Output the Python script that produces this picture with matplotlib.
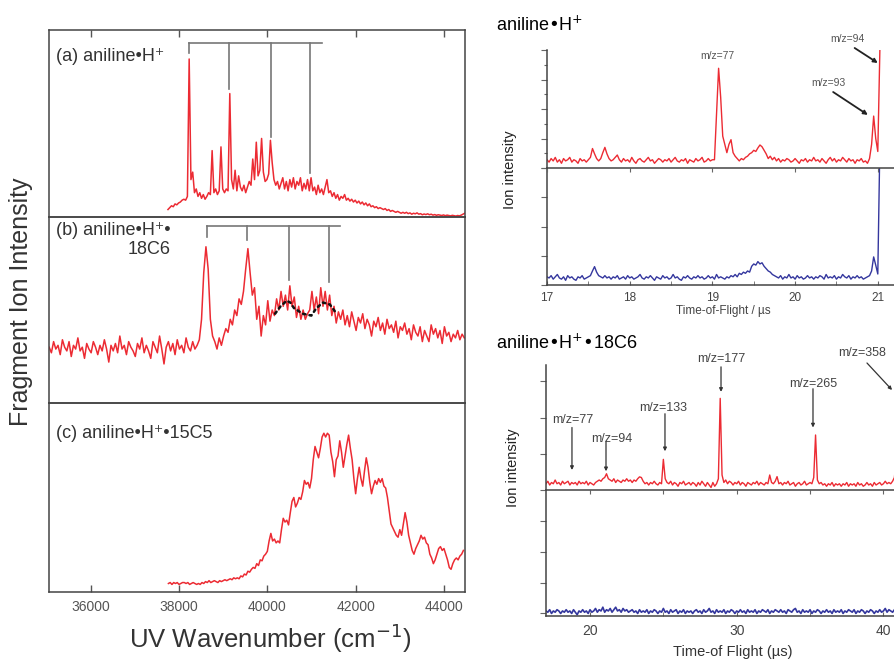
import numpy as np
import matplotlib.pyplot as plt
from matplotlib.ticker import MultipleLocator

plt.rcParams['font.family'] = ['Liberation Sans', 'DejaVu Sans']

# ---------------- left: UV photodissociation spectra ----------------
# panel (a) aniline.H+, sampled every 40 cm-1 from 37750
spec_a_start, spec_a_step = 37750, 40
spec_a = [0.04, 0.05, 0.06, 0.055, 0.07, 0.065, 0.075, 0.08, 0.09, 0.095, 0.09, 0.11,
          0.845, 0.2, 0.24, 0.13, 0.15, 0.11, 0.13, 0.1, 0.12, 0.095, 0.11, 0.13, 0.12,
          0.355, 0.13, 0.15, 0.12, 0.14, 0.375, 0.15, 0.13, 0.15, 0.14,
          0.66, 0.2, 0.15, 0.25, 0.14, 0.22, 0.16, 0.14, 0.17, 0.13, 0.16, 0.19, 0.17,
          0.31, 0.2, 0.4, 0.22, 0.25, 0.42, 0.24, 0.19, 0.2, 0.23, 0.41, 0.29,
          0.2, 0.17, 0.19, 0.15, 0.18, 0.21, 0.15, 0.19, 0.14, 0.2, 0.16, 0.21, 0.15, 0.19,
          0.17, 0.21, 0.14, 0.18, 0.15, 0.2, 0.14, 0.21,
          0.14, 0.16, 0.12, 0.17, 0.13, 0.15, 0.12, 0.16, 0.2, 0.13, 0.14, 0.11, 0.13, 0.1,
          0.12, 0.09, 0.11, 0.1, 0.12,
          0.09, 0.1, 0.085, 0.095, 0.08, 0.09, 0.075, 0.085, 0.07, 0.08, 0.065, 0.075, 0.06,
          0.07, 0.055, 0.06, 0.05, 0.055, 0.045, 0.05, 0.045, 0.04, 0.045, 0.035, 0.04, 0.03,
          0.035, 0.03, 0.025,
          0.03, 0.025, 0.02, 0.025, 0.02, 0.025, 0.018, 0.022, 0.015, 0.02, 0.017, 0.022,
          0.015, 0.018, 0.012, 0.016, 0.013, 0.017, 0.012, 0.015, 0.01, 0.013, 0.009, 0.012,
          0.01, 0.008, 0.011, 0.007, 0.01, 0.008, 0.006, 0.009, 0.007, 0.005, 0.008, 0.006,
          0.01, 0.015, 0.02]

# panel (b) aniline.H+.18C6, every 50 cm-1 from 35060
spec_b_start, spec_b_step = 35060, 50
spec_b = [0.30, 0.27, 0.33, 0.29, 0.31, 0.26, 0.34, 0.30, 0.28, 0.33, 0.25, 0.31, 0.29, 0.35,
          0.28, 0.30, 0.24, 0.32, 0.29, 0.27, 0.33, 0.30, 0.26, 0.31, 0.28, 0.34, 0.29, 0.22,
          0.31, 0.28, 0.32, 0.27, 0.36, 0.29, 0.31, 0.26, 0.33, 0.30, 0.28, 0.25, 0.32, 0.29,
          0.35, 0.27, 0.31, 0.28, 0.24, 0.33, 0.30, 0.27, 0.36, 0.29, 0.21, 0.30, 0.33, 0.28,
          0.32, 0.26, 0.34, 0.29, 0.31, 0.27, 0.35, 0.30, 0.28, 0.33, 0.29, 0.31,
          0.34, 0.45, 0.70, 0.84, 0.72, 0.45, 0.36, 0.33, 0.29, 0.35, 0.31, 0.36, 0.40, 0.38,
          0.45, 0.42, 0.50, 0.47, 0.56, 0.53, 0.60, 0.72, 0.83, 0.70, 0.58, 0.62, 0.45, 0.52,
          0.36, 0.47, 0.42, 0.55, 0.44, 0.50, 0.47, 0.56, 0.50, 0.60, 0.52, 0.58, 0.50, 0.63,
          0.52, 0.57, 0.46, 0.52, 0.45, 0.50, 0.45, 0.48, 0.50, 0.60, 0.50, 0.57, 0.48, 0.62,
          0.52, 0.60, 0.50, 0.58, 0.47, 0.52, 0.43, 0.49,
          0.45, 0.50, 0.42, 0.47, 0.41, 0.49, 0.44, 0.39, 0.46, 0.43, 0.48, 0.40, 0.45, 0.42,
          0.36, 0.44, 0.41, 0.46, 0.39, 0.43, 0.37, 0.45, 0.40, 0.42, 0.38, 0.44, 0.35, 0.41,
          0.39, 0.43, 0.37, 0.40, 0.34, 0.42, 0.38, 0.36, 0.41, 0.33, 0.39, 0.36,
          0.33, 0.42, 0.37, 0.40, 0.35, 0.39, 0.32, 0.41, 0.36, 0.38, 0.33, 0.37, 0.35, 0.39,
          0.34, 0.37, 0.35]
dots_b_wn = [40175, 40300, 40440, 40520, 40605, 40800, 40997, 41110, 41262, 41414, 41570]
dots_b_val = [0.48, 0.52, 0.55, 0.54, 0.51, 0.48, 0.47, 0.51, 0.54, 0.53, 0.48]

# panel (c) aniline.H+.15C5, every 40 cm-1 from 37760
spec_c_start, spec_c_step = 37760, 40
spec_c = [0.045, 0.05, 0.04, 0.05, 0.045, 0.05, 0.04, 0.045, 0.05, 0.05, 0.045, 0.05, 0.04,
          0.045, 0.05, 0.045, 0.04, 0.045, 0.04, 0.05, 0.045, 0.055, 0.05, 0.06, 0.05, 0.055,
          0.06, 0.055, 0.05, 0.06, 0.055, 0.06, 0.065, 0.06, 0.065, 0.07, 0.065, 0.075, 0.07,
          0.075, 0.07, 0.085, 0.08, 0.095, 0.09, 0.11, 0.105, 0.12, 0.13, 0.125, 0.15, 0.14,
          0.17, 0.165, 0.19, 0.2, 0.215, 0.27, 0.31, 0.27, 0.28, 0.26, 0.27, 0.26, 0.33, 0.39,
          0.37, 0.38, 0.355, 0.42, 0.48, 0.5, 0.45, 0.47, 0.5, 0.49, 0.53, 0.59, 0.57, 0.58,
          0.55, 0.6, 0.7, 0.77, 0.74, 0.71, 0.76, 0.82, 0.84, 0.82, 0.84, 0.83, 0.74, 0.69,
          0.61, 0.7, 0.72, 0.8, 0.74, 0.66, 0.72, 0.78, 0.83, 0.76, 0.7, 0.6, 0.52, 0.6, 0.66,
          0.6, 0.56, 0.64, 0.71, 0.66, 0.58, 0.52, 0.56, 0.59, 0.57, 0.6, 0.58, 0.6, 0.56,
          0.55, 0.5, 0.43, 0.36, 0.34, 0.32, 0.3, 0.29, 0.33, 0.3, 0.36, 0.42, 0.37, 0.3, 0.26,
          0.22, 0.2, 0.23, 0.25, 0.27, 0.3, 0.28, 0.29, 0.26, 0.25, 0.2, 0.18, 0.15, 0.17, 0.2,
          0.23, 0.24, 0.22, 0.23, 0.2, 0.17, 0.13, 0.12, 0.15, 0.17, 0.18, 0.17, 0.19, 0.2, 0.22]

# progression brackets (position, bottom of each drop line)
bracket_a_wn = [38227, 39133, 40077, 40968]
bracket_a_low = [0.877, 0.684, 0.428, 0.235]
bracket_a_top, bracket_a_end = 0.93, 41232
bracket_b_wn = [38642, 39547, 40499, 41398]
bracket_b_low = [0.894, 0.876, 0.66, 0.65]
bracket_b_top, bracket_b_end = 0.95, 41647

uv_ticks = [36000, 38000, 40000, 42000, 44000]
panel_labels = ['(a) aniline•H⁺', '(b) aniline•H⁺•\n18C6', '(c) aniline•H⁺•15C5']

# ---------------- right top: TOF of aniline.H+ (step 0.025 us from 17) ----------------
tof1_start, tof1_step = 17.0, 0.025
tof1_red = [0.07, 0.05, 0.08, 0.06, 0.09, 0.05, 0.07, 0.04, 0.08, 0.06, 0.07, 0.09, 0.05, 0.07,
            0.06, 0.04, 0.08, 0.06, 0.07, 0.05, 0.07,
            0.09, 0.165, 0.12, 0.08, 0.06, 0.08, 0.13, 0.175, 0.12, 0.08, 0.06, 0.07, 0.09, 0.11,
            0.07, 0.05, 0.08, 0.06, 0.07, 0.05, 0.09, 0.06, 0.04, 0.07, 0.08, 0.06, 0.05, 0.07,
            0.09, 0.06, 0.07, 0.04, 0.06, 0.08, 0.07, 0.05, 0.07, 0.06, 0.08, 0.05, 0.07, 0.09,
            0.06, 0.05, 0.07, 0.06, 0.08, 0.04, 0.07, 0.06, 0.05, 0.08, 0.06, 0.07, 0.09, 0.05,
            0.06, 0.08, 0.06, 0.07,
            0.07, 0.45, 0.845, 0.6, 0.27, 0.2, 0.13, 0.2, 0.24, 0.13, 0.1, 0.08, 0.06, 0.08, 0.07,
            0.09, 0.1, 0.12, 0.13, 0.15, 0.14, 0.17, 0.195, 0.18, 0.15, 0.12, 0.08, 0.1,
            0.07, 0.09, 0.06, 0.08, 0.05, 0.07, 0.06, 0.08, 0.07, 0.05, 0.06, 0.08, 0.06, 0.04,
            0.07, 0.06, 0.08, 0.05, 0.07, 0.06, 0.09, 0.06, 0.07, 0.05, 0.08, 0.06, 0.04, 0.07,
            0.09, 0.06, 0.08, 0.05, 0.07, 0.06, 0.09, 0.07, 0.05, 0.08, 0.06, 0.07, 0.04, 0.07,
            0.06, 0.08, 0.05, 0.06, 0.04, 0.08,
            0.2, 0.44, 0.25, 0.14, 1.0]
tof1_blue = [0.07, 0.06, 0.08, 0.05, 0.07, 0.09, 0.06, 0.05, 0.07, 0.04, 0.08, 0.06, 0.07, 0.05,
             0.04, 0.07, 0.06, 0.08, 0.05, 0.06, 0.07,
             0.08, 0.12, 0.157, 0.11, 0.08,
             0.07, 0.06, 0.08, 0.06, 0.07, 0.05, 0.07, 0.06, 0.08, 0.05, 0.06, 0.07, 0.05, 0.08,
             0.06, 0.07, 0.05, 0.06, 0.07, 0.09, 0.06, 0.05, 0.07, 0.06, 0.08, 0.06, 0.04, 0.07,
             0.06, 0.05, 0.08, 0.06, 0.07, 0.05, 0.06, 0.09, 0.06, 0.07, 0.05, 0.04, 0.07, 0.06,
             0.08, 0.06, 0.05, 0.07, 0.06, 0.08, 0.06, 0.07, 0.05, 0.06, 0.08, 0.06, 0.07, 0.05,
             0.09, 0.06, 0.07, 0.06, 0.05, 0.07, 0.06, 0.08,
             0.07, 0.09, 0.07, 0.1, 0.09, 0.11, 0.1, 0.12, 0.11, 0.16, 0.18, 0.17, 0.2, 0.18,
             0.19, 0.16, 0.14, 0.12, 0.11, 0.09, 0.08,
             0.07, 0.06, 0.08, 0.05, 0.07, 0.06, 0.09, 0.06, 0.07, 0.05, 0.08, 0.06, 0.07, 0.05,
             0.06, 0.08, 0.06, 0.07, 0.05, 0.07, 0.06, 0.08, 0.07, 0.05, 0.09, 0.06, 0.07, 0.06,
             0.08, 0.05, 0.07, 0.06, 0.09, 0.07, 0.06, 0.08, 0.05, 0.07, 0.06, 0.08, 0.06, 0.07,
             0.05, 0.06, 0.07, 0.08,
             0.12, 0.24, 0.17, 0.094, 1.2]

# ---------------- right bottom: TOF of aniline.H+.18C6 (step 0.125 us from 17) ----------------
tof2_start, tof2_step = 17.0, 0.125
tof2_red = [0.05, 0.07, 0.04, 0.06, 0.05, 0.08, 0.05, 0.06, 0.04, 0.07, 0.05, 0.06, 0.07, 0.04, 0.06, 0.05,
            0.06, 0.04, 0.07, 0.05, 0.06, 0.05, 0.07, 0.04, 0.06, 0.05, 0.04, 0.06, 0.07, 0.08, 0.07, 0.09,
            0.10, 0.13, 0.09, 0.08, 0.07, 0.09, 0.06, 0.08, 0.07, 0.06, 0.08, 0.07, 0.09, 0.07, 0.08, 0.06,
            0.08, 0.07, 0.09, 0.105, 0.10, 0.07, 0.05, 0.06, 0.04, 0.06, 0.05, 0.07, 0.05, 0.04, 0.06, 0.05,
            0.245, 0.09, 0.06, 0.05, 0.07, 0.04, 0.06, 0.05, 0.03, 0.06, 0.05, 0.07, 0.04, 0.05, 0.06, 0.04,
            0.06, 0.05, 0.03, 0.06, 0.04, 0.07, 0.05, 0.03, 0.06, 0.04, 0.02, 0.06, 0.03, 0.05, 0.09, 0.733,
            0.12, 0.06, 0.08, 0.05, 0.07, 0.06, 0.04, 0.06, 0.05, 0.07, 0.04, 0.06, 0.05, 0.03, 0.06, 0.05,
            0.04, 0.06, 0.05, 0.07, 0.04, 0.06, 0.05, 0.04, 0.06, 0.05, 0.12, 0.06, 0.05, 0.07, 0.107, 0.05,
            0.06, 0.04, 0.06, 0.05, 0.07, 0.04, 0.05, 0.06, 0.03, 0.05, 0.06, 0.04, 0.05, 0.07, 0.04, 0.05,
            0.06, 0.05, 0.1, 0.44, 0.08, 0.05, 0.06, 0.04, 0.05, 0.03, 0.05, 0.04, 0.06, 0.03, 0.05, 0.04,
            0.05, 0.03, 0.05, 0.04, 0.06, 0.03, 0.05, 0.04, 0.05, 0.03, 0.06, 0.04, 0.05, 0.03, 0.04, 0.06,
            0.04, 0.05, 0.03, 0.06, 0.04, 0.05, 0.06, 0.04, 0.05, 0.07, 0.05, 0.06, 0.05, 0.07, 0.1, 0.25]
tof2_blue = [0.04, 0.03, 0.05, 0.02, 0.04, 0.03, 0.05, 0.04, 0.02, 0.04, 0.03, 0.05, 0.03, 0.04, 0.02, 0.05,
             0.03, 0.01, 0.04, 0.03, 0.05, 0.03, 0.04, 0.02, 0.05, 0.03, 0.04, 0.06, 0.03, 0.05, 0.04, 0.07,
             0.03, 0.05, 0.04, 0.06, 0.03, 0.05, 0.07, 0.04, 0.05, 0.03, 0.06, 0.04, 0.05, 0.03, 0.04, 0.05,
             0.03, 0.04, 0.02, 0.05, 0.03, 0.04, 0.03, 0.05, 0.02, 0.04, 0.03, 0.05, 0.04, 0.02, 0.04, 0.03,
             0.06, 0.03, 0.04, 0.02, 0.05, 0.03, 0.04, 0.05, 0.02, 0.04, 0.03, 0.05, 0.02, 0.04, 0.03, 0.04,
             0.02, 0.04, 0.05, 0.03, 0.04, 0.02, 0.05, 0.03, 0.04, 0.06, 0.03, 0.04, 0.02, 0.05, 0.03, 0.04,
             0.03, 0.05, 0.02, 0.04, 0.03, 0.05, 0.04, 0.02, 0.04, 0.03, 0.05, 0.03, 0.04, 0.02, 0.05, 0.03,
             0.04, 0.03, 0.05, 0.02, 0.04, 0.03, 0.05, 0.04, 0.03, 0.05, 0.02, 0.04, 0.03, 0.05, 0.04, 0.03,
             0.05, 0.03, 0.04, 0.02, 0.05, 0.04, 0.03, 0.05, 0.06, 0.03, 0.04, 0.02, 0.05, 0.03, 0.04, 0.03,
             0.05, 0.02, 0.04, 0.03, 0.05, 0.04, 0.02, 0.04, 0.03, 0.05, 0.03, 0.04, 0.02, 0.05, 0.03, 0.04,
             0.03, 0.05, 0.02, 0.04, 0.03, 0.05, 0.04, 0.03, 0.05, 0.02, 0.04, 0.03, 0.05, 0.04, 0.02, 0.04,
             0.03, 0.05, 0.04, 0.02, 0.04, 0.03, 0.05, 0.03, 0.04, 0.06, 0.03, 0.05, 0.04, 0.03, 0.05, 0.06]

# peak labels: (text, text x, text y, arrow tail x, tail y, head x, head y)
tof1_labels = [('m/z=77', 19.06, 0.95, None, None, None, None),
               ('m/z=93', 20.40, 0.72, 20.46, 0.644, 20.88, 0.45),
               ('m/z=94', 20.63, 1.093, 20.72, 1.017, 21.0, 0.89)]
tof2_labels = [('m/z=77', 18.84, 0.56, 18.77, 0.50, 18.77, 0.16),
               ('m/z=94', 21.5, 0.408, 21.09, 0.384, 21.09, 0.15),
               ('m/z=133', 24.98, 0.656, 25.11, 0.61, 25.11, 0.31),
               ('m/z=177', 28.93, 1.048, 28.93, 0.985, 28.93, 0.785),
               ('m/z=265', 35.2, 0.848, 35.2, 0.81, 35.2, 0.50),
               ('m/z=358', 38.54, 1.096, 38.88, 1.016, 40.59, 0.80)]

RED = '#ec2b33'
BLUE = '#34379e'
W, H = 894, 660


def box(x0, y0, x1, y1):
    # pixel box -> figure fraction rect
    return [x0 / W, 1 - y1 / H, (x1 - x0) / W, (y1 - y0) / H]


fig = plt.figure(figsize=(8.94, 6.6), dpi=100)

# ---------- left column ----------
rows = [(30, 217), (217, 403), (403, 592)]
specs = [(spec_a_start, spec_a_step, spec_a),
         (spec_b_start, spec_b_step, spec_b),
         (spec_c_start, spec_c_step, spec_c)]
label_y = [0.856, 0.876, 0.84]
left_axes = []
for i, (y0, y1) in enumerate(rows):
    ax = fig.add_axes(box(49, y0, 465, y1))
    ax.patch.set_visible(False)
    start, step, vals = specs[i]
    wn = start + step * np.arange(len(vals))
    ax.plot(wn, vals, color=RED, lw=1.1)
    ax.set_xlim(35056, 44476)
    ax.set_ylim(0, 1)
    ax.set_yticks([])
    for s in ax.spines.values():
        s.set_color('#444444')
        s.set_linewidth(1.1)
    ax.set_xticks(uv_ticks)
    ax.tick_params(axis='x', direction='in', length=5, width=1, color='#555555',
                   labelsize=10, labelcolor='#555555', pad=6,
                   top=(i == 0), bottom=(i == 2), labelbottom=(i == 2))
    ax.text(0.017, label_y[i], panel_labels[i], transform=ax.transAxes, fontsize=13,
            color='#333333', va='center', ha='left', multialignment='right')
    left_axes.append(ax)

# brackets
for ax, pos, low, top, end in [(left_axes[0], bracket_a_wn, bracket_a_low, bracket_a_top, bracket_a_end),
                               (left_axes[1], bracket_b_wn, bracket_b_low, bracket_b_top, bracket_b_end)]:
    ax.plot([pos[0], end], [top, top], color='#777777', lw=1.2)
    for p, lo in zip(pos, low):
        ax.plot([p, p], [top, lo], color='#777777', lw=1.2)
left_axes[1].plot(dots_b_wn, dots_b_val, color='#111111', lw=1.8, ls=(0, (1, 1.6)),
                  dash_capstyle='round', zorder=3)

fig.text(21 / W, 1 - 302 / H, 'Fragment Ion Intensity', rotation=90, fontsize=18,
         color='#333333', ha='center', va='center')
fig.text(270 / W, 1 - 638 / H, 'UV Wavenumber (cm$^{-1}$)', fontsize=18.5,
         color='#333333', ha='center', va='center')

# ---------- right top ----------
px1 = 82.7
ax_b1 = fig.add_axes(box(547, 168, 547 + 4.5 * px1, 285))
ax_r1 = fig.add_axes(box(547, 50, 547 + 4.5 * px1, 168))
t1r = tof1_start + tof1_step * np.arange(len(tof1_red))
t1b = tof1_start + tof1_step * np.arange(len(tof1_blue))
ax_r1.plot(t1r, tof1_red, color=RED, lw=1.0)
ax_b1.plot(t1b, tof1_blue, color=BLUE, lw=1.0)
for ax in (ax_r1, ax_b1):
    ax.patch.set_visible(False)
    ax.set_xlim(17, 21.5)
    ax.set_ylim(0, 1)
    ax.spines['top'].set_visible(False)
    ax.spines['right'].set_visible(False)
    for s in ('left', 'bottom'):
        ax.spines[s].set_color('#444444')
        ax.spines[s].set_linewidth(1.1)
    ax.yaxis.set_major_locator(MultipleLocator(0.25))
    ax.tick_params(axis='y', direction='out', length=4, width=0.8, color='#666666',
                   labelleft=False)
ax_r1.yaxis.set_minor_locator(MultipleLocator(0.125))
ax_r1.tick_params(axis='y', which='minor', direction='out', length=2.5, width=0.8, color='#666666')
ax_r1.xaxis.set_major_locator(MultipleLocator(1))
ax_r1.tick_params(axis='x', direction='out', length=3, color='#666666', labelbottom=False)
ax_b1.xaxis.set_major_locator(MultipleLocator(1))
ax_b1.xaxis.set_minor_locator(MultipleLocator(0.5))
ax_b1.tick_params(axis='x', which='both', direction='in', length=3, color='#666666',
                  labelsize=8.5, labelcolor='#444444', pad=5)

for txt, tx, ty, ax0, ay0, ax1_, ay1 in tof1_labels:
    ax_r1.text(tx, ty, txt, fontsize=7.5, color='#555555', ha='center', va='center')
    if ax0 is not None:
        ax_r1.annotate('', xy=(ax1_, ay1), xytext=(ax0, ay0), annotation_clip=False,
                       arrowprops=dict(arrowstyle='-|>', color='#222222', lw=1.3,
                                       mutation_scale=6, shrinkA=0, shrinkB=0))

fig.text(496 / W, 1 - 25 / H, 'aniline•H$^{+}$', fontsize=13, ha='left', va='center')
fig.text(510 / W, 1 - 170 / H, 'Ion intensity', rotation=90, fontsize=10.5,
         ha='center', va='center', color='#222222')
fig.text(723 / W, 1 - 311 / H, 'Time-of-Flight / µs', fontsize=8.5,
         ha='center', va='center', color='#444444')

# ---------- right bottom ----------
px2 = 14.67
ax_b2 = fig.add_axes(box(546, 490, 546 + 25 * px2, 616))
ax_r2 = fig.add_axes(box(546, 365, 546 + 25 * px2, 490))
t2r = tof2_start + tof2_step * np.arange(len(tof2_red))
t2b = tof2_start + tof2_step * np.arange(len(tof2_blue))
ax_r2.plot(t2r, tof2_red, color=RED, lw=1.0)
ax_b2.plot(t2b, tof2_blue, color=BLUE, lw=1.2)
for ax in (ax_r2, ax_b2):
    ax.patch.set_visible(False)
    ax.set_xlim(17, 42)
    ax.set_ylim(0, 1)
    ax.spines['top'].set_visible(False)
    ax.spines['right'].set_visible(False)
    for s in ('left', 'bottom'):
        ax.spines[s].set_color('#444444')
        ax.spines[s].set_linewidth(1.1)
    ax.tick_params(axis='y', direction='out', length=4, width=0.8, color='#666666',
                   labelleft=False)
ax_r2.set_yticks([0, 0.29, 0.58, 0.87])
ax_b2.set_yticks([0.02, 0.26, 0.51, 0.755])
ax_r2.xaxis.set_major_locator(MultipleLocator(5))
ax_r2.tick_params(axis='x', direction='out', length=3, color='#666666', labelbottom=False)
ax_b2.xaxis.set_major_locator(MultipleLocator(10))
ax_b2.xaxis.set_minor_locator(MultipleLocator(5))
ax_b2.tick_params(axis='x', which='both', direction='in', length=3, color='#666666',
                  labelsize=10, labelcolor='#444444', pad=6)

for txt, tx, ty, ax0, ay0, ax1_, ay1 in tof2_labels:
    ax_r2.text(tx, ty, txt, fontsize=9, color='#444444', ha='center', va='center')
    ax_r2.annotate('', xy=(ax1_, ay1), xytext=(ax0, ay0), annotation_clip=False,
                   arrowprops=dict(arrowstyle='-|>', color='#333333', lw=0.9,
                                   mutation_scale=5, shrinkA=0, shrinkB=0))

fig.text(496 / W, 1 - 343 / H, 'aniline•H$^{+}$•18C6', fontsize=13, ha='left', va='center')
fig.text(513 / W, 1 - 468 / H, 'Ion intensity', rotation=90, fontsize=10.5,
         ha='center', va='center', color='#222222')
fig.text(733 / W, 1 - 652 / H, 'Time-of Flight (µs)', fontsize=10.5,
         ha='center', va='center', color='#333333')

fig.savefig('out.png', dpi=100)
